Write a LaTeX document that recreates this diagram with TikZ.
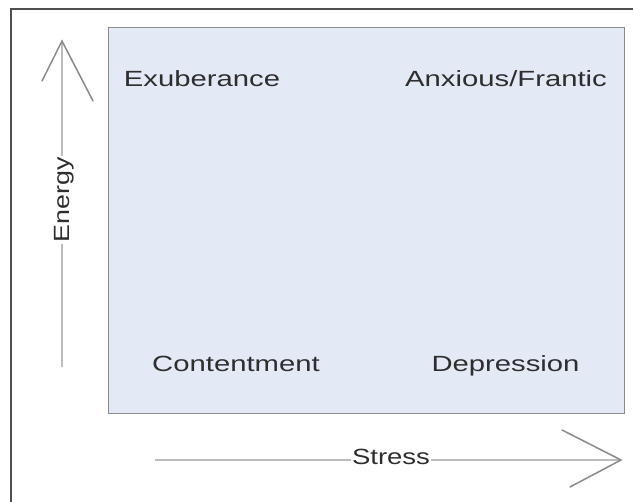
\documentclass[tikz,border=0pt]{standalone}
\usepackage{fontspec}
\setmainfont{Liberation Sans}
\definecolor{txt}{HTML}{2E2E2E}
\definecolor{boxfill}{HTML}{E4EAF5}
\definecolor{boxline}{HTML}{8C8C8C}
\definecolor{shaftc}{HTML}{BDBDBD}
\definecolor{headc}{HTML}{8A8A8A}
\definecolor{framec}{HTML}{505050}
\begin{document}
\begin{tikzpicture}[x=1pt,y=-1pt,
  lab/.style={text=txt, font=\fontsize{22}{26}\selectfont, inner sep=0pt, anchor=base},
  axlab/.style={lab, fill=white, inner sep=1.5pt},
  shaft/.style={draw=shaftc, line width=2.5pt},
  head/.style={draw=headc, line width=1.5pt, line cap=round, line join=miter},
  framel/.style={draw=framec, line width=1.3pt}]
\useasboundingbox (0,0) rectangle (633,502);
\fill[white] (0,0) rectangle (633,502);
% outer frame
\coordinate (fbl) at (11,503);
\coordinate (ftl) at (11,9);
\coordinate (ftr) at (634,9);
\draw[framel] (fbl) -- (ftl) -- (ftr);
% quadrant box
\node[draw=boxline, fill=boxfill, line width=1.2pt, minimum width=516pt, minimum height=386pt, inner sep=0pt, anchor=north west] (quad) at (108,27) {};
% labels in box
\node[lab] (exu) at (202,87) {\scalebox{1.33}[1]{Exuberance}};
\node[lab] (anx) at (506,87) {\scalebox{1.33}[1]{Anxious/Frantic}};
\node[lab] (con) at (236,372) {\scalebox{1.33}[1]{Contentment}};
\node[lab] (dep) at (505.5,372) {\scalebox{1.33}[1]{Depression}};
% energy arrow
\coordinate (etop) at (62,41);
\coordinate (ebot) at (62,367);
\coordinate (eL) at (42,81);
\coordinate (eR) at (93,101);
\draw[shaft] (ebot) -- (etop);
\draw[head] (eL) -- (etop) -- (eR);
\node[axlab, rotate=90] (energy) at (70,200) {\scalebox{1.22}[1]{Energy}};
% stress arrow
\coordinate (sleft) at (155,460);
\coordinate (stip) at (621,460);
\coordinate (sU) at (562,430);
\coordinate (sD) at (570,487);
\draw[shaft] (sleft) -- (stip);
\draw[head] (sU) -- (stip) -- (sD);
\node[axlab] (stress) at (391,465) {\scalebox{1.25}[1]{Stress}};
\end{tikzpicture}
\end{document}
